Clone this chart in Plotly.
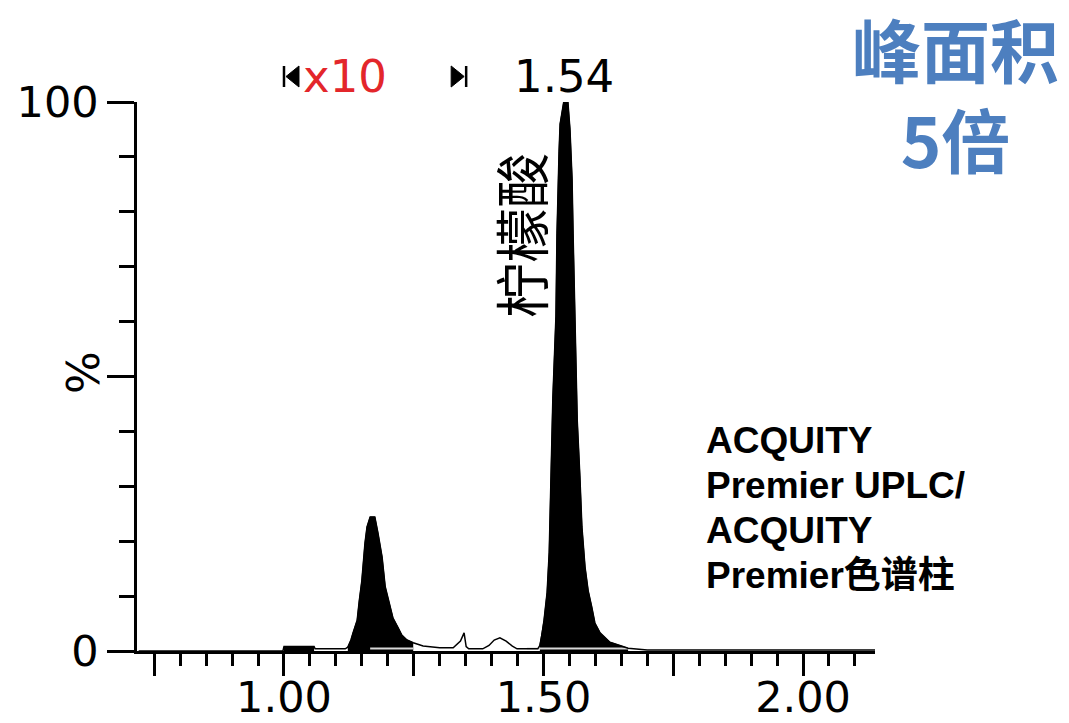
import numpy as np
import plotly.graph_objects as go

# ---- data ----
time_min = [0.720, 0.998, 1.000, 1.058, 1.060, 1.118,
            1.123, 1.129, 1.133, 1.141, 1.145, 1.150, 1.156, 1.160, 1.166,
            1.175, 1.181, 1.189, 1.195, 1.204, 1.210, 1.220, 1.227, 1.237,
            1.249, 1.268, 1.300, 1.326,
            1.340, 1.347, 1.351, 1.356, 1.383, 1.395, 1.405, 1.416, 1.428,
            1.440, 1.449, 1.489,
            1.493, 1.497, 1.501, 1.507, 1.511, 1.514, 1.518, 1.524, 1.526,
            1.530, 1.532, 1.539, 1.547, 1.551, 1.555, 1.557, 1.561, 1.565,
            1.570, 1.574, 1.580, 1.586, 1.593, 1.599, 1.609, 1.628, 1.647,
            1.663, 1.700, 2.139]
intensity_pct = [0.0, 0.0, 0.8, 0.8, 0.4, 0.4,
                 0.7, 2.0, 3.3, 5.6, 9.1, 12.8, 19.6, 22.6, 24.4,
                 24.4, 21.5, 17.1, 11.7, 8.0, 6.0, 4.2, 2.9, 2.0,
                 1.5, 0.9, 0.6, 0.6,
                 1.8, 3.3, 0.8, 0.4, 0.4, 1.0, 2.0, 2.4, 1.8,
                 0.9, 0.4, 0.4,
                 1.0, 3.0, 5.6, 10.7, 18.0, 30.0, 46.0, 61.0, 76.0,
                 91.0, 96.0, 100.0, 100.0, 95.0, 86.0, 76.0, 60.0, 42.0,
                 32.0, 22.6, 15.3, 11.0, 8.0, 5.1, 3.3, 1.6, 1.0,
                 0.5, 0.2, 0.2]

peak_windows = [(1.000, 1.058), (1.120, 1.249), (1.490, 1.663)]
integration_baselines = [(1.166, 1.249), (1.468, 1.663)]

x_tick_major = [0.75, 1.00, 1.25, 1.50, 1.75, 2.00]
x_tick_text = ["", "1.00", "", "1.50", "", "2.00"]
y_tick_major = [0, 50, 100]
y_tick_text = ["0", "", "100"]
x_range = [0.7168, 2.1387]

apex_label = "1.54"
apex_time = 1.54
zoom_label = "x10"
zoom_window = (1.000, 1.351)
compound_label = "柠檬酸"
title_lines = ["峰面积", "5倍"]
column_lines = ["ACQUITY", "Premier UPLC/", "ACQUITY", "Premier色谱柱"]

# ---- figure ----
W, H = 1069, 723
L, R, T, B = 137, 194, 102, 72
PW, PH = W - L - R, H - T - B
X_PER_PX = (x_range[1] - x_range[0]) / PW

def px(xp):
    return (xp - L) / PW

def py(yp):
    return (H - B - yp) / PH

t = np.array(time_min)
y = np.array(intensity_pct)

fig = go.Figure()
for a, b in peak_windows:
    m = (t >= a - 1e-9) & (t <= b + 1e-9)
    fig.add_trace(go.Scatter(x=t[m], y=y[m], mode="lines", fill="tozeroy",
                             fillcolor="black", line=dict(color="black", width=1),
                             hoverinfo="skip"))
for a, b in integration_baselines:
    fig.add_trace(go.Scatter(x=[a, b], y=[0.45, 0.45], mode="lines",
                             line=dict(color="#d8d8d8", width=2), hoverinfo="skip"))
fig.add_trace(go.Scatter(x=t, y=y, mode="lines",
                         line=dict(color="black", width=1.5), hoverinfo="skip"))

# zoom-window markers  |<  ...  >|  above the plot (decorations)
y_top, y_bot, y_mid = py(66), py(87), py(76.5)
a0, a1 = zoom_window
shapes = [
    dict(type="line", xref="x", yref="paper", x0=a0, x1=a0, y0=y_bot, y1=y_top,
         line=dict(color="black", width=2.5)),
    dict(type="path", xref="x", yref="paper", fillcolor="black",
         line=dict(color="black", width=1),
         path="M %f,%f L %f,%f L %f,%f Z" % (a0 + 2 * X_PER_PX, y_mid,
                                            a0 + 15 * X_PER_PX, y_top,
                                            a0 + 15 * X_PER_PX, y_bot)),
    dict(type="line", xref="x", yref="paper", x0=a1, x1=a1, y0=y_bot, y1=y_top,
         line=dict(color="black", width=2.5)),
    dict(type="path", xref="x", yref="paper", fillcolor="black",
         line=dict(color="black", width=1),
         path="M %f,%f L %f,%f L %f,%f Z" % (a1 - 2 * X_PER_PX, y_mid,
                                            a1 - 15 * X_PER_PX, y_top,
                                            a1 - 15 * X_PER_PX, y_bot)),
]

tickfont = dict(family="DejaVu Sans", size=43, color="black")
fig.update_layout(
    width=W, height=H, margin=dict(l=L, r=R, t=T, b=B, pad=0, autoexpand=False),
    paper_bgcolor="white", plot_bgcolor="white", showlegend=False, shapes=shapes,
    xaxis=dict(range=x_range, showline=True, linecolor="black", linewidth=2.5,
               ticks="outside", tickvals=x_tick_major, ticktext=x_tick_text,
               ticklen=22, tickwidth=2.5, tickcolor="black", tickfont=tickfont,
               ticklabelstandoff=-15,
               showgrid=False, zeroline=False, automargin=False,
               minor=dict(tick0=0.75, dtick=0.05, ticklen=12, tickwidth=2.5,
                          tickcolor="black", ticks="outside", showgrid=False)),
    yaxis=dict(range=[0, 100], showline=True, linecolor="black", linewidth=2.5,
               ticks="outside", tickvals=y_tick_major, ticktext=y_tick_text,
               ticklen=27, tickwidth=2.5, tickcolor="black", tickfont=tickfont,
               showgrid=False, zeroline=False, automargin=False,
               minor=dict(dtick=10, ticklen=15, tickwidth=2.5,
                          tickcolor="black", ticks="outside", showgrid=False)),
)

def note(x, yv, text, font, xref="paper", xanchor="center", angle=0, height=None):
    d = dict(x=x, y=yv, xref=xref, yref="paper", text=text, showarrow=False,
             xanchor=xanchor, yanchor="middle", textangle=angle, font=font)
    if height:
        d["height"] = height
    return d

ann = []
ann.append(note(px(83), py(373), "%", dict(family="DejaVu Sans", size=45, color="black"), angle=-90))
ann.append(note(apex_time, py(76), apex_label, dict(family="DejaVu Sans", size=45, color="black"), xref="x"))
ann.append(note(px(345), py(76), zoom_label, dict(family="DejaVu Sans", size=45, color="#e3262b")))
ann.append(note(px(519), py(236), compound_label,
                dict(family="Noto Sans CJK SC", size=55, color="black"), angle=-90))
ann.append(note(px(955), py(93), "<br>".join("<b>%s</b>" % s for s in title_lines),
                dict(family="Noto Sans CJK SC", size=69, color="#4d7fbf")))
for i, line in enumerate(column_lines):
    ann.append(note(px(704), py(440 + 45 * i), "<b>%s</b>" % line,
                    dict(family="Liberation Sans, Noto Sans CJK SC", size=37, color="black"),
                    xanchor="left", height=42))
fig.update_layout(annotations=ann)

fig.write_html("out.html")
